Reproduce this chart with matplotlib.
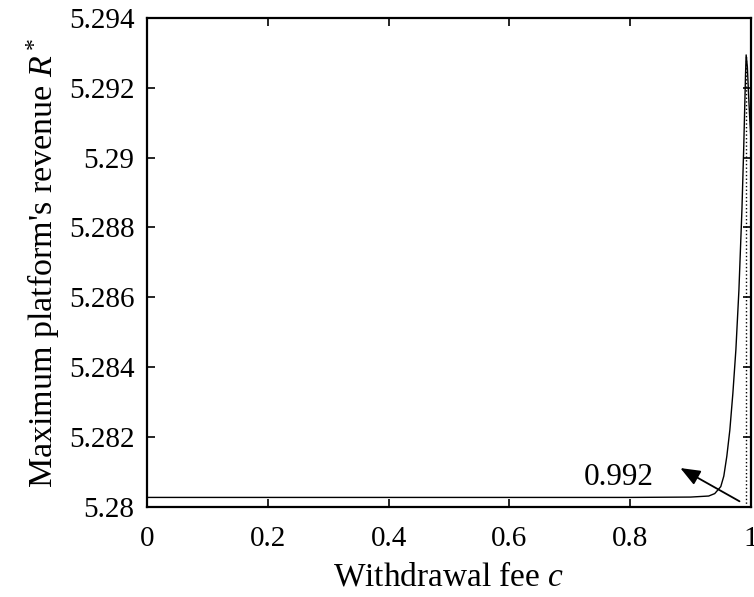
import matplotlib.pyplot as plt
import numpy as np

plt.rcParams['font.family'] = ['Liberation Serif', 'DejaVu Serif']
plt.rcParams['mathtext.fontset'] = 'custom'
plt.rcParams['mathtext.rm'] = 'Liberation Serif'
plt.rcParams['mathtext.it'] = 'Liberation Serif:italic'

# Data
fee = [0.0, 0.2, 0.4, 0.6, 0.8, 0.90, 0.93, 0.94, 0.95, 0.955, 0.96, 0.965, 0.97,
       0.975, 0.98, 0.985, 0.988, 0.990, 0.991, 0.992, 0.994, 0.996, 0.998, 1.0]
revenue = [5.28027, 5.28027, 5.28027, 5.28027, 5.28027, 5.28028, 5.28031, 5.28038,
           5.28058, 5.28088, 5.28145, 5.28220, 5.28325, 5.28450, 5.28620, 5.28850,
           5.29030, 5.29170, 5.29240, 5.29294, 5.29260, 5.29180, 5.29110, 5.29050]
peak_fee = 0.992
peak_rev = 5.29294

xticks = [0, 0.2, 0.4, 0.6, 0.8, 1]
xtick_labels = ['0', '0.2', '0.4', '0.6', '0.8', '1']
yticks = [5.28, 5.282, 5.284, 5.286, 5.288, 5.29, 5.292, 5.294]
ytick_labels = ['5.28', '5.282', '5.284', '5.286', '5.288', '5.29', '5.292', '5.294']

fig = plt.figure(figsize=(7.54, 5.97), dpi=100)
ax = fig.add_axes([0.195, 0.151, 0.801, 0.819])

ax.plot(fee, revenue, '-k', lw=1.0)
ax.plot([peak_fee, peak_fee], [5.28, peak_rev], ':k', lw=1.0)

ax.annotate('', xy=(0.879, 5.28115), xytext=(0.985, 5.28012),
            arrowprops=dict(arrowstyle='-|>,head_length=0.75,head_width=0.3',
                            color='k', lw=1.3, mutation_scale=16))
ax.text(0.781, 5.28083, '0.992', fontsize=22.5, ha='center', va='center')

ax.set_xlim(0, 1)
ax.set_ylim(5.28, 5.294)
ax.set_xticks(xticks)
ax.set_xticklabels(xtick_labels)
ax.set_yticks(yticks)
ax.set_yticklabels(ytick_labels)
ax.tick_params(direction='in', length=6, width=1.2, labelsize=21, top=True, right=True,
               labeltop=False, labelright=False, pad=14)
ax.tick_params(axis='y', pad=9)
for s in ax.spines.values():
    s.set_linewidth(1.6)

ax.set_xlabel('Withdrawal fee $c$', fontsize=24, labelpad=7)
ax.set_ylabel("Maximum platform's revenue $R^*$", fontsize=24.5, labelpad=5)

fig.savefig('out.png', dpi=100)
